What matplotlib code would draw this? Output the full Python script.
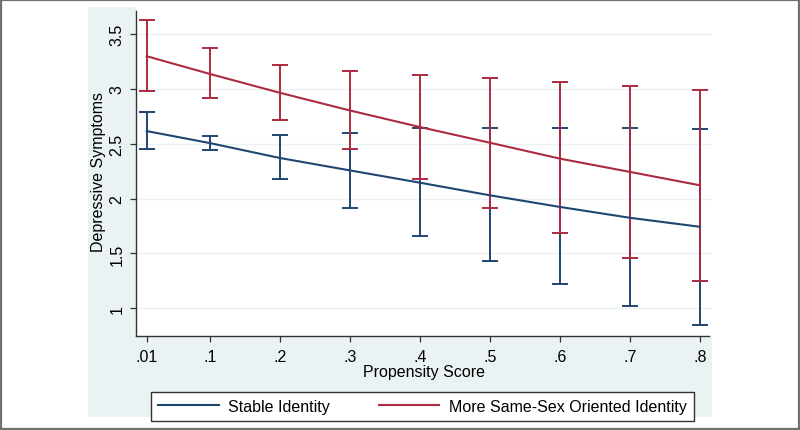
import numpy as np
import matplotlib
matplotlib.use("Agg")
import matplotlib.pyplot as plt
from matplotlib.patches import Rectangle

plt.rcParams['font.family'] = ['Liberation Sans', 'DejaVu Sans']

# propensity score values
x = [0.01, 0.1, 0.2, 0.3, 0.4, 0.5, 0.6, 0.7, 0.8]
xlabels = ['.01', '.1', '.2', '.3', '.4', '.5', '.6', '.7', '.8']

# stable identity: estimate, upper, lower
stable = [2.615, 2.506, 2.37, 2.257, 2.145, 2.03, 1.924, 1.825, 1.743]
stable_hi = [2.788, 2.57, 2.575, 2.60, 2.64, 2.645, 2.645, 2.645, 2.636]
stable_lo = [2.452, 2.44, 2.179, 1.915, 1.661, 1.433, 1.222, 1.024, 0.848]

# more same-sex oriented identity
samesex = [3.297, 3.136, 2.964, 2.803, 2.652, 2.509, 2.364, 2.243, 2.121]
samesex_hi = [3.627, 3.37, 3.218, 3.164, 3.127, 3.10, 3.066, 3.03, 2.99]
samesex_lo = [2.98, 2.915, 2.72, 2.455, 2.182, 1.918, 1.682, 1.455, 1.245]

blue = '#1f4670'
red = '#ac2b40'
W, H = 800, 431

fig = plt.figure(figsize=(8, 4.31), dpi=100)
# stata graph region
fig.patches.append(Rectangle((88/W, 1-418/H), 624/W, 410/H, transform=fig.transFigure,
                             facecolor='#eaf2f3', edgecolor='none', zorder=-5))
# outer frame
fig.patches.append(Rectangle((1/W, 1/H), 1-2/W, 1-2/H, transform=fig.transFigure,
                             fill=False, edgecolor='#707070', lw=1.6, zorder=10))

ax = fig.add_axes([136/W, 1-337/H, 576/W, 329/H])
ax.set_facecolor('white')

# y axis: 110 px per unit, tick 3.5 at y=35 px
y0 = 1 - (337-309.3)/110
x0 = 0.01 - (146.7-136)/700
ax.set_ylim(y0, 3.5 + (35-8)/110)
ax.set_xlim(x0, 0.8 + 12/700)

ax.set_yticks([1, 1.5, 2, 2.5, 3, 3.5])
ax.set_yticklabels(['1', '1.5', '2', '2.5', '3', '3.5'], rotation=90, va='center')
ax.set_xticks(x)
ax.set_xticklabels(xlabels)
ax.grid(axis='y', color='#eaf2f3', lw=1)
ax.set_axisbelow(True)

for s in ['top', 'right']:
    ax.spines[s].set_visible(False)
for s in ['left', 'bottom']:
    ax.spines[s].set_color('#333333')
    ax.spines[s].set_linewidth(1.0)
ax.spines['left'].set_bounds(y0, 3.5 + (35-12)/110)
ax.spines['bottom'].set_bounds(x0, 0.8 + 9/700)
ax.tick_params(direction='out', length=4.3, width=0.9, color='#333333',
               labelsize=11.5, labelcolor='black')
ax.tick_params(axis='y', pad=4)
ax.tick_params(axis='x', pad=5)

st = np.array(stable)
ss = np.array(samesex)
ax.errorbar(x, st, yerr=[st - np.array(stable_lo), np.array(stable_hi) - st],
            fmt='none', ecolor=blue, elinewidth=1.4, capsize=5.5, capthick=1.4, zorder=2)
ax.errorbar(x, ss, yerr=[ss - np.array(samesex_lo), np.array(samesex_hi) - ss],
            fmt='none', ecolor=red, elinewidth=1.4, capsize=5.5, capthick=1.4, zorder=3)
ax.plot(x, stable, color=blue, lw=1.5, label='Stable Identity', zorder=4)
ax.plot(x, samesex, color=red, lw=1.5, label='More Same-Sex Oriented Identity', zorder=4)

ax.set_xlabel('Propensity Score', fontsize=11.5, va='center')
ax.xaxis.set_label_coords(0.5, -35/329)
ax.set_ylabel('Depressive Symptoms', fontsize=11.5, va='center')
ax.yaxis.set_label_coords((98-136)/576, 0.5)

leg = fig.legend(loc='lower left', bbox_to_anchor=(151/W, 1-422/H, 543/W, 31/H),
                 mode='expand', ncol=2, fontsize=11.5, handlelength=3.8,
                 handletextpad=0.6, frameon=True, fancybox=False, framealpha=1,
                 borderaxespad=0, borderpad=0.45)
leg.get_frame().set_edgecolor('#333333')
leg.get_frame().set_linewidth(1.0)
leg.get_frame().set_facecolor('white')

fig.savefig('out.png', dpi=100)
